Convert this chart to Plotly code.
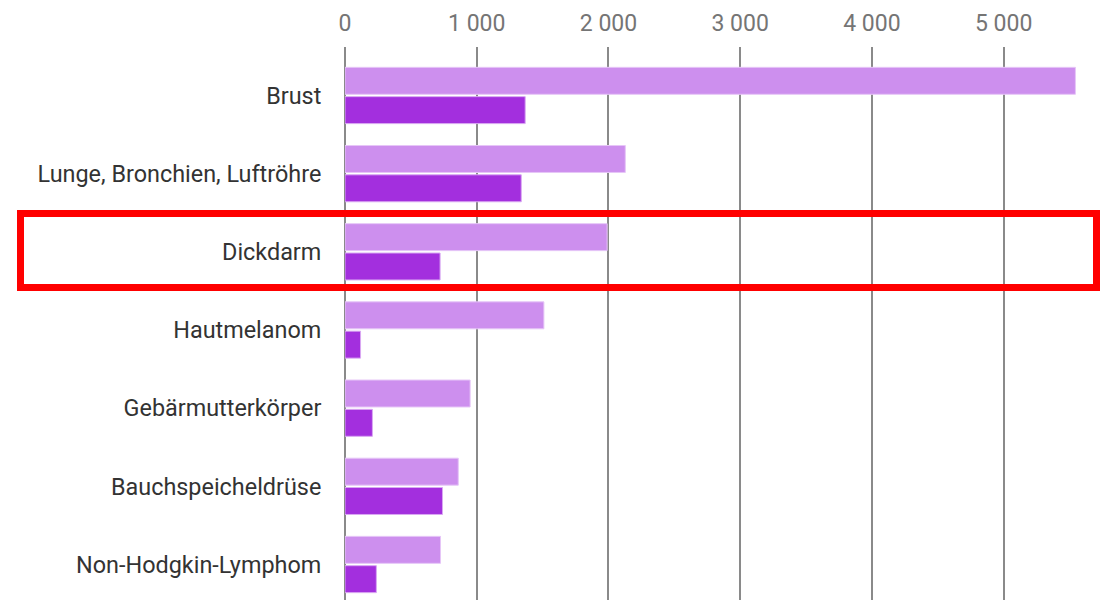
import plotly.graph_objects as go

categories = ["Brust", "Lunge, Bronchien, Luftröhre", "Dickdarm", "Hautmelanom",
              "Gebärmutterkörper", "Bauchspeicheldrüse", "Non-Hodgkin-Lymphom"]
series_a = [5545, 2128, 1990, 1510, 950, 860, 725]
series_b = [1368, 1338, 722, 118, 208, 740, 238]
tick_vals = [0, 1000, 2000, 3000, 4000, 5000]
tick_text = ["0", "1 000", "2 000", "3 000", "4 000", "5 000"]
highlight = "Dickdarm"

fig = go.Figure()
fig.add_trace(go.Bar(y=categories, x=series_a, orientation="h", name="A",
                     marker=dict(color="#CD8FEE", line=dict(color="#E6C6F7", width=1))))
fig.add_trace(go.Bar(y=categories, x=series_b, orientation="h", name="B",
                     marker=dict(color="#A32FDE", line=dict(color="#D9A8F2", width=1))))

hi = categories.index(highlight)
fig.add_shape(type="rect", xref="paper", yref="y",
              x0=(20.5 - 345) / 764, x1=(1096.5 - 345) / 764,
              y0=hi - 0.49, y1=hi + 0.455,
              line=dict(color="#FF0000", width=7), fillcolor="rgba(0,0,0,0)", layer="above")

fig.update_layout(
    width=1109, height=600,
    margin=dict(l=345, r=0, t=47, b=0),
    paper_bgcolor="white", plot_bgcolor="white",
    barmode="group", bargap=0.25, bargroupgap=0.08,
    showlegend=False,
    font=dict(family="Roboto", size=22, color="#333333"),
    xaxis=dict(side="top", range=[0, 5800], tickvals=tick_vals, ticktext=tick_text,
               showgrid=True, gridcolor="#8A8A8A", gridwidth=2,
               zeroline=True, zerolinecolor="#8A8A8A", zerolinewidth=2,
               tickfont=dict(family="Roboto", size=23, color="#757575"),
               ticks="outside", ticklen=6, tickcolor="rgba(0,0,0,0)",
               fixedrange=True),
    yaxis=dict(categoryorder="array", categoryarray=categories,
               range=[6.454, -0.62], showgrid=False, zeroline=False,
               ticks="outside", ticklen=18, tickcolor="rgba(0,0,0,0)",
               tickfont=dict(family="Roboto", size=23.4, color="#333333")),
)

fig.write_html("out.html")
